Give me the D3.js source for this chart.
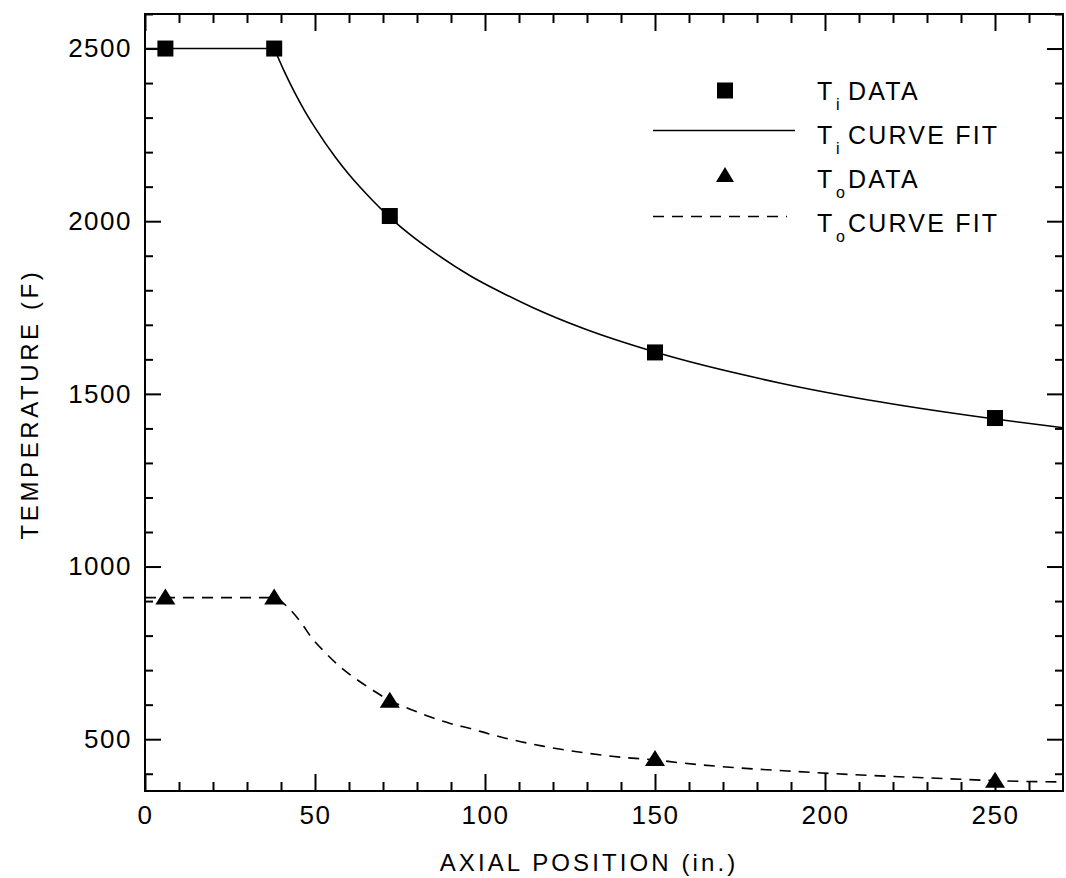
<!DOCTYPE html>
<html>
<head>
<meta charset="utf-8">
<script src="https://cdn.jsdelivr.net/npm/d3@7"></script>
<style>
  html, body { margin: 0; padding: 0; background: #fff; }
  svg { display: block; }
  text { font-family: "Liberation Sans", Arial, sans-serif; fill: #000; }
</style>
</head>
<body>
<svg id="chart" width="1066" height="878"></svg>
<script>
// ---- data ----
const xMajorTicks = [0, 50, 100, 150, 200, 250];
const xMinorTicks = [10, 20, 30, 40, 60, 70, 80, 90, 110, 120, 130, 140, 160, 170, 180, 190, 210, 220, 230, 240, 260];
const yMajorTicks = [500, 1000, 1500, 2000, 2500];
const yMinorTicks = [400, 600, 700, 800, 900, 1100, 1200, 1300, 1400, 1600, 1700, 1800, 1900, 2100, 2200, 2300, 2400, 2600];

const tiDataX = [6, 38, 72, 150, 250];
const tiDataY = [2500, 2500, 2015, 1620, 1430];
const toDataX = [6, 38, 72, 150, 250];
const toDataY = [910, 910, 611, 443, 380];

// curve fits (flat part up to x = 38, then the fitted decay)
const tiFitX = [0, 38, 41, 44, 47, 50, 56, 60, 65, 72, 78, 84, 96, 105, 114, 129, 150, 187, 216, 250, 270];
const tiFitY = [2500, 2500, 2433, 2373, 2319, 2271, 2185, 2135, 2080, 2011, 1961, 1917, 1840, 1793, 1750, 1689, 1621, 1531, 1477, 1427, 1402];
const toFitX = [0, 38, 42, 46, 49, 53, 57, 62, 67, 72, 78, 84, 90, 96, 101, 106, 117, 129, 141, 150, 158, 173, 189, 203, 220, 235, 250, 270];
const toFitY = [910, 910, 882, 836, 794, 751, 713, 675, 642, 612, 587, 564, 545, 530, 516, 503, 480, 461, 447, 440, 431, 418, 408, 400, 392, 386, 380, 376];

const legendLabels = [
  {main: "T", sub: "i", rest: "DATA"},
  {main: "T", sub: "i", rest: "CURVE FIT"},
  {main: "T", sub: "o", rest: "DATA"},
  {main: "T", sub: "o", rest: "CURVE FIT"}
];
const xTitle = "AXIAL POSITION (in.)";
const yTitle = "TEMPERATURE (F)";

// ---- layout ----
const L = 145, R = 1063, T = 14, B = 791;
const svg = d3.select("#chart");
const x = d3.scaleLinear().domain([0, 270]).range([L, R]);
const y = d3.scaleLinear().domain([350, 2600]).range([B, T]);

function styleAxis(g) {
  g.select(".domain").remove();
  g.selectAll(".tick line").attr("stroke", "#000").attr("stroke-width", 2);
  g.selectAll(".tick text").attr("fill", "#000")
    .style("font-family", '"Liberation Sans", Arial, sans-serif')
    .style("font-size", "26px").style("letter-spacing", "1.5px");
}

// bottom
svg.append("g").attr("transform", `translate(0,${B})`)
  .call(d3.axisBottom(x).tickValues(xMinorTicks).tickSize(-9).tickSizeOuter(0).tickFormat(""))
  .call(styleAxis);
svg.append("g").attr("transform", `translate(0,${B})`)
  .call(d3.axisBottom(x).tickValues(xMajorTicks).tickSize(-17).tickSizeOuter(0).tickPadding(15).tickFormat(d3.format("d")))
  .call(styleAxis);
// top
svg.append("g").attr("transform", `translate(0,${T})`)
  .call(d3.axisTop(x).tickValues(xMinorTicks).tickSize(-9).tickSizeOuter(0).tickFormat(""))
  .call(styleAxis);
svg.append("g").attr("transform", `translate(0,${T})`)
  .call(d3.axisTop(x).tickValues(xMajorTicks).tickSize(-17).tickSizeOuter(0).tickFormat(""))
  .call(styleAxis);
// left
svg.append("g").attr("transform", `translate(${L},0)`)
  .call(d3.axisLeft(y).tickValues(yMinorTicks).tickSize(-8).tickSizeOuter(0).tickFormat(""))
  .call(styleAxis);
svg.append("g").attr("transform", `translate(${L},0)`)
  .call(d3.axisLeft(y).tickValues(yMajorTicks).tickSize(-16).tickSizeOuter(0).tickPadding(13).tickFormat(d3.format("d")))
  .call(styleAxis);
// right
svg.append("g").attr("transform", `translate(${R},0)`)
  .call(d3.axisRight(y).tickValues(yMinorTicks).tickSize(-8).tickSizeOuter(0).tickFormat(""))
  .call(styleAxis);
svg.append("g").attr("transform", `translate(${R},0)`)
  .call(d3.axisRight(y).tickValues(yMajorTicks).tickSize(-16).tickSizeOuter(0).tickFormat(""))
  .call(styleAxis);

// frame
svg.append("rect").attr("x", L).attr("y", T).attr("width", R - L).attr("height", B - T)
  .attr("fill", "none").attr("stroke", "#000").attr("stroke-width", 2);

// curves: straight flat part, then smooth fitted part
const flat = d3.line().x(d => x(d[0])).y(d => y(d[1]));
const smooth = d3.line().x(d => x(d[0])).y(d => y(d[1])).curve(d3.curveMonotoneX);
const tiPts = tiFitX.map((v, i) => [v, tiFitY[i]]);
const toPts = toFitX.map((v, i) => [v, toFitY[i]]);
svg.append("path").datum(tiPts.slice(0, 2)).attr("d", flat)
  .attr("fill", "none").attr("stroke", "#000").attr("stroke-width", 1.6);
svg.append("path").datum(tiPts.slice(1)).attr("d", smooth)
  .attr("fill", "none").attr("stroke", "#000").attr("stroke-width", 1.6);
svg.append("path").datum(toPts).attr("d", smooth)
  .attr("fill", "none").attr("stroke", "#000").attr("stroke-width", 1.6)
  .attr("stroke-dasharray", "11,8");

// markers
const sq = 16;
svg.append("g").selectAll("rect").data(tiDataX.map((v, i) => [v, tiDataY[i]])).join("rect")
  .attr("x", d => x(d[0]) - sq / 2).attr("y", d => y(d[1]) - sq / 2)
  .attr("width", sq).attr("height", sq).attr("fill", "#000");
svg.append("g").selectAll("path").data(toDataX.map((v, i) => [v, toDataY[i]])).join("path")
  .attr("transform", d => `translate(${x(d[0])},${y(d[1])})`)
  .attr("d", "M0,-9 L10,7 L-10,7 Z").attr("fill", "#000");

// legend
const leg = svg.append("g");
leg.append("rect").attr("x", 725 - 8).attr("y", 90.5 - 8).attr("width", 16).attr("height", 16).attr("fill", "#000");
leg.append("line").attr("x1", 653).attr("x2", 795).attr("y1", 130.5).attr("y2", 130.5)
  .attr("stroke", "#000").attr("stroke-width", 1.6);
leg.append("path").attr("transform", "translate(725,175)").attr("d", "M0,-8 L9,7 L-9,7 Z").attr("fill", "#000");
leg.append("line").attr("x1", 653).attr("x2", 787).attr("y1", 216.5).attr("y2", 216.5)
  .attr("stroke", "#000").attr("stroke-width", 1.6).attr("stroke-dasharray", "11,8");

const baselines = [100, 144, 188, 232];
legendLabels.forEach((lab, i) => {
  const g = leg.append("g");
  g.append("text").attr("x", 817).attr("y", baselines[i]).style("font-size", "25px").text(lab.main);
  g.append("text").attr("x", 836).attr("y", baselines[i] + 10).style("font-size", "16px").text(lab.sub);
  g.append("text").attr("x", 848).attr("y", baselines[i]).style("font-size", "25px")
    .style("letter-spacing", "2.2px").text(lab.rest);
});

// titles
svg.append("text").attr("x", 589).attr("y", 871).attr("text-anchor", "middle")
  .style("font-size", "24px").style("letter-spacing", "3.1px").text(xTitle);
svg.append("text").attr("transform", "translate(38,404) rotate(-90)").attr("text-anchor", "middle")
  .style("font-size", "24px").style("letter-spacing", "3.6px").text(yTitle);
</script>
</body>
</html>
